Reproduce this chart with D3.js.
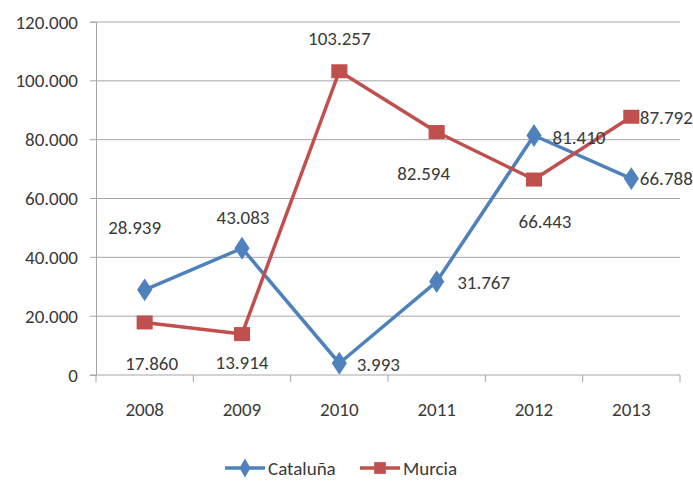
<!DOCTYPE html>
<html>
<head>
<meta charset="utf-8">
<script src="https://cdn.jsdelivr.net/npm/d3@7"></script>
<style>
  body { margin: 0; background: #fff; }
  text { font-family: Carlito, "Liberation Sans Narrow", "DejaVu Sans Condensed", sans-serif; fill: #3a3a3a; }
</style>
</head>
<body>
<svg width="693" height="481"></svg>
<script>
const years = ["2008", "2009", "2010", "2011", "2012", "2013"];
const cataluna = [28939, 43083, 3993, 31767, 81410, 66788];
const murcia = [17860, 13914, 103257, 82594, 66443, 87792];
const yTicks = [0, 20000, 40000, 60000, 80000, 100000, 120000];

// where each data label sits relative to its point
const catalunaLabelPos = [[-10, -62], [1, -31], [39, 1], [47, 1], [45, 2], [35, 0]];
const murciaLabelPos = [[7, 41], [0, 28], [0, -33], [-13, 41], [11, 42], [35, 1]];

const svg = d3.select("svg");
const margin = { left: 96, right: 13, top: 22, bottom: 106 };
const width = parseInt(svg.attr("width"));
const height = parseInt(svg.attr("height"));

const x = d3.scaleBand()
  .domain(years)
  .range([margin.left, width - margin.right]);

const y = d3.scaleLinear()
  .domain([0, 120000])
  .range([height - margin.bottom, margin.top]);

const fmt = d3.formatLocale({ decimal: ",", thousands: ".", grouping: [3] }).format(",");

// gridlines
svg.append("g")
  .selectAll("line")
  .data(yTicks)
  .join("line")
  .attr("x1", margin.left - 6)
  .attr("x2", width - margin.right)
  .attr("y1", d => y(d))
  .attr("y2", d => y(d))
  .attr("stroke", "#a6a6a6")
  .attr("stroke-width", 1);

// y axis
const yAxis = svg.append("g")
  .attr("transform", `translate(${margin.left},0)`)
  .call(d3.axisLeft(y).tickValues(yTicks).tickFormat(fmt).tickSize(6).tickPadding(12));
yAxis.select(".domain").attr("stroke", "#a6a6a6");
yAxis.selectAll(".tick line").remove();
yAxis.selectAll("text").style("font-size", "19px").attr("fill", "#3a3a3a");

// x axis
const xAxis = svg.append("g")
  .attr("transform", `translate(0,${y(0)})`)
  .call(d3.axisBottom(x).tickSize(0).tickPadding(28));
xAxis.select(".domain").remove();
xAxis.selectAll("text").style("font-size", "19px").attr("fill", "#3a3a3a");

svg.append("g")
  .selectAll("line")
  .data(years.concat(["end"]))
  .join("line")
  .attr("x1", (d, i) => margin.left + i * x.step())
  .attr("x2", (d, i) => margin.left + i * x.step())
  .attr("y1", y(0))
  .attr("y2", y(0) + 7)
  .attr("stroke", "#a6a6a6");

const line = d3.line()
  .x((d, i) => x(years[i]) + x.bandwidth() / 2)
  .y(d => y(d));

const series = [
  { name: "Cataluña", values: cataluna, color: "#4f81bd", shape: d3.symbolDiamond, size: 150, labels: catalunaLabelPos },
  { name: "Murcia", values: murcia, color: "#c0504d", shape: d3.symbolSquare, size: 196, labels: murciaLabelPos }
];

series.forEach(s => {
  svg.append("path")
    .datum(s.values)
    .attr("d", line)
    .attr("fill", "none")
    .attr("stroke", s.color)
    .attr("stroke-width", 3.5)
    .attr("stroke-linejoin", "round");
});

series.forEach(s => {
  svg.append("g")
    .selectAll("path")
    .data(s.values)
    .join("path")
    .attr("d", d3.symbol(s.shape, s.size))
    .attr("transform", (d, i) => `translate(${x(years[i]) + x.bandwidth() / 2},${y(d)}) scale(1.15,1)`)
    .attr("fill", s.color);
});

series.forEach(s => {
  svg.append("g")
    .selectAll("text")
    .data(s.values)
    .join("text")
    .attr("x", (d, i) => x(years[i]) + x.bandwidth() / 2 + s.labels[i][0])
    .attr("y", (d, i) => y(d) + s.labels[i][1])
    .attr("text-anchor", "middle")
    .attr("dominant-baseline", "central")
    .style("font-size", "19px")
    .text(d => fmt(d));
});

// legend
const legend = svg.append("g").attr("transform", "translate(225,468)");
series.forEach((s, i) => {
  const g = legend.append("g").attr("transform", `translate(${i * 135},0)`);
  g.append("line").attr("x1", 0).attr("x2", 40).attr("stroke", s.color).attr("stroke-width", 3.5);
  g.append("path").attr("d", d3.symbol(s.shape, s.size * 0.7)).attr("transform", "translate(20,0)").attr("fill", s.color);
  g.append("text").attr("x", 43).attr("dominant-baseline", "central").style("font-size", "19px").text(s.name);
});
</script>
</body>
</html>
